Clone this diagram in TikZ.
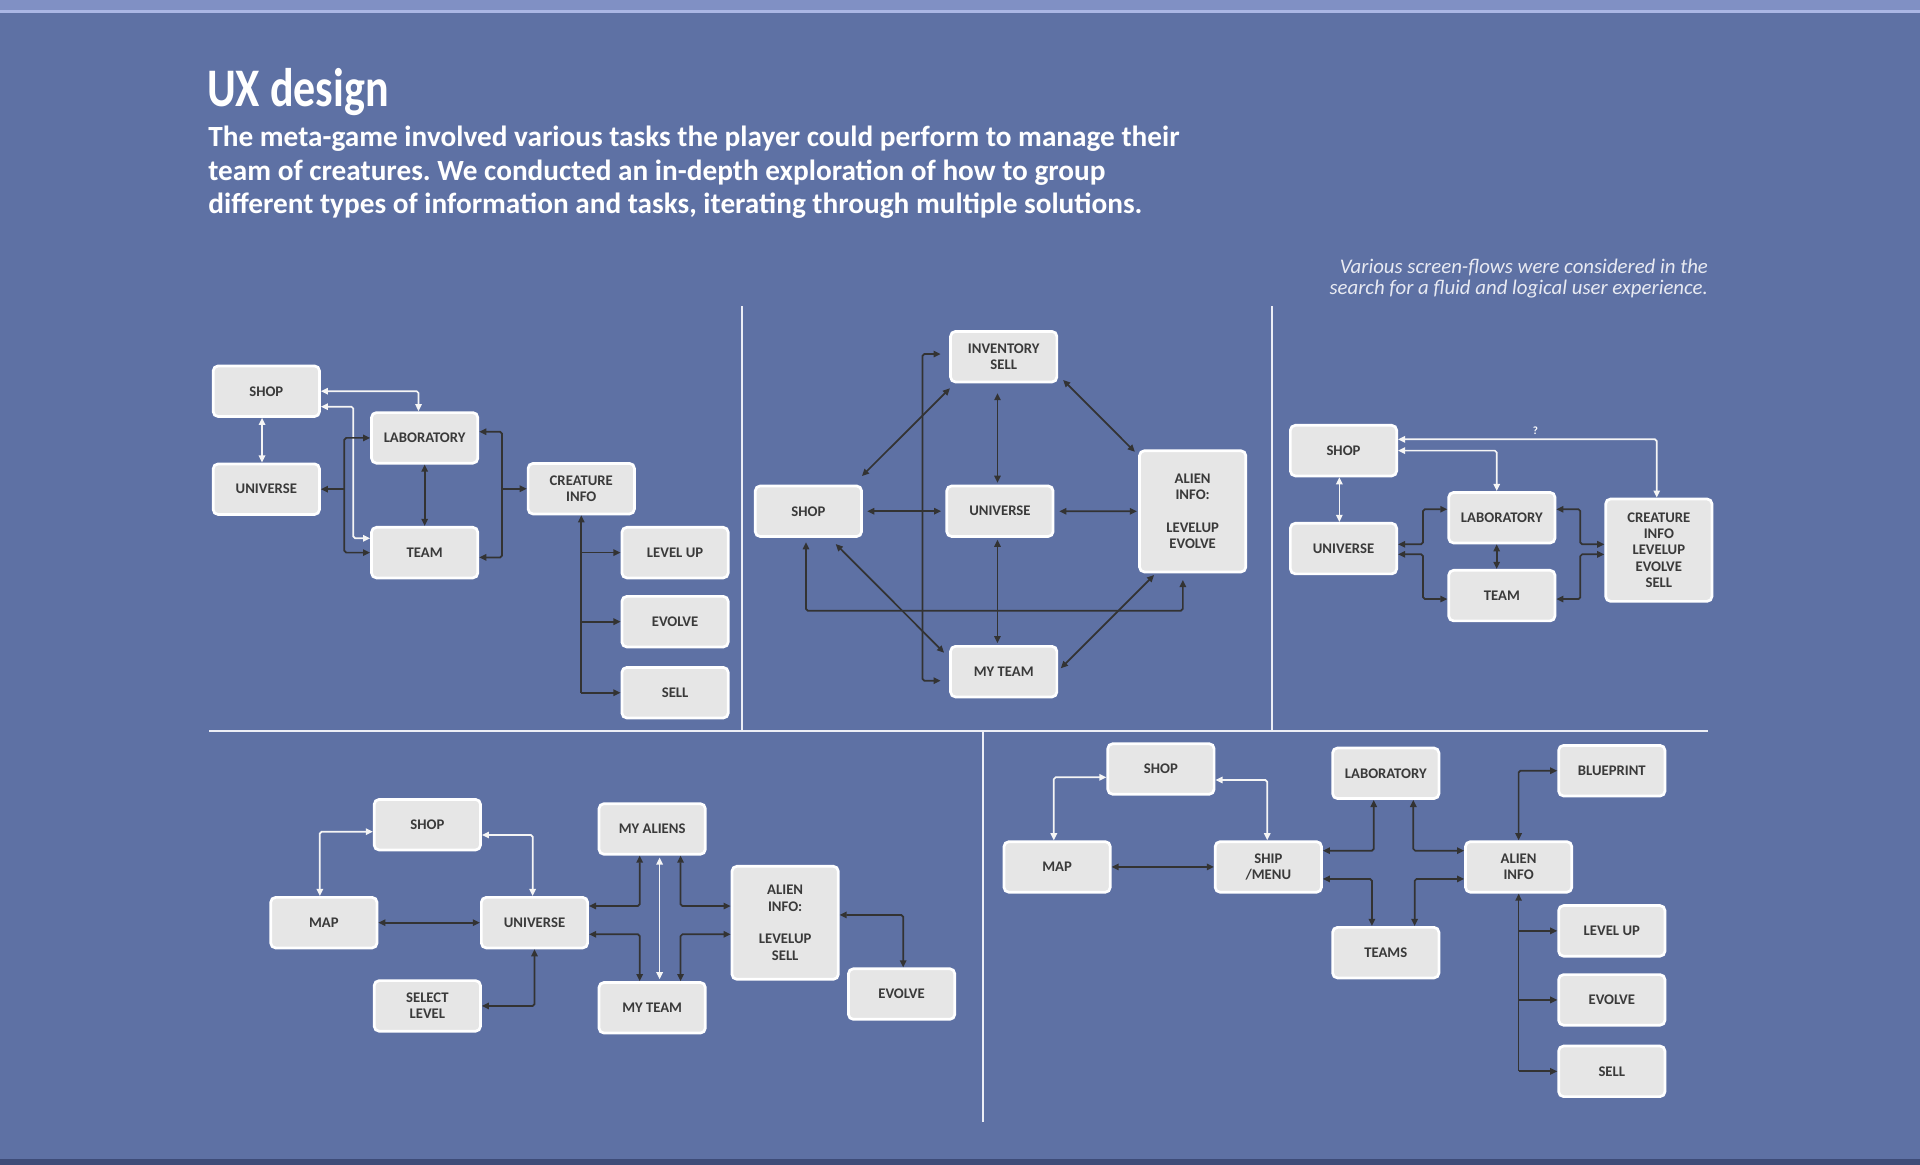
\documentclass[tikz,border=0pt]{standalone}
\usepackage{fontspec}
\setmainfont{Carlito}
\usetikzlibrary{arrows.meta,calc}
\definecolor{bg}{RGB}{94,113,164}
\definecolor{bandtop}{RGB}{128,144,196}
\definecolor{hilite}{RGB}{170,182,228}
\definecolor{bandbot}{RGB}{62,76,120}
\definecolor{boxfill}{RGB}{230,230,230}
\definecolor{boxtext}{RGB}{58,58,58}
\definecolor{ink}{RGB}{51,51,51}
\definecolor{wline}{RGB}{245,245,245}
\definecolor{sepline}{RGB}{236,238,246}
\definecolor{notetext}{RGB}{232,234,242}
\frenchspacing
\tikzset{
  box/.style={draw=white,line width=2.2pt,fill=boxfill,rounded corners=4pt,minimum width=86.8pt,minimum height=41.3pt,inner sep=0pt,align=center,text=boxtext,font=\fontsize{12}{13.4}\selectfont\bfseries},
  tall/.style={box,minimum height=#1},
  arr/.style={{Triangle[length=5.8pt,width=5.2pt]}-{Triangle[length=5.8pt,width=5.2pt]},line width=1.4pt,draw=ink,rounded corners=1.5pt},
  arr1/.style={-{Triangle[length=5.8pt,width=5.2pt]},line width=1.4pt,draw=ink},
  warr/.style={arr,draw=wline},
  sep/.style={draw=sepline,line width=1.6pt},
  body/.style={anchor=base west,inner sep=0pt,text=white,font=\fontsize{23.9}{27}\selectfont\bfseries},
  note/.style={anchor=base east,inner sep=0pt,text=notetext,font=\fontsize{17}{18}\selectfont\itshape},
  qlbl/.style={inner sep=0pt,text=white,font=\fontsize{9}{10}\selectfont\bfseries},
}

\begin{document}
\begin{tikzpicture}[x=1pt,y=-1pt]
 \useasboundingbox (0,0) rectangle (1568,951);
 \fill[bg] (0,0) rectangle (1568,951);
 \fill[bandtop] (0,0) rectangle (1568,8.2); \fill[hilite] (0,8.2) rectangle (1568,10.9);
 \fill[bandbot] (0,946.8) rectangle (1568,951);
 % heading
 \node[anchor=base west,inner sep=0pt,text=white,font=\fontsize{44.4}{50}\selectfont\bfseries] (title) at (169,87) {\scalebox{0.81}[1]{UX design}};
 \foreach \t [count=\i] in {{The meta-game involved various tasks the player could perform to manage their},{team of creatures. We conducted an in-depth exploration of how to group},{different types of information and tasks, iterating through multiple solutions.}}
  \node[body] (intro\i) at (170,{93+27*\i}) {\t};
 \node[note] (note1) at (1395,223.2) {Various screen-flows were considered in the};
 \node[note] (note2) at (1395,240.9) {search for a fluid and logical user experience.};
 % panel dividers
 \draw[sep] (171,597) -- (1395,597);
 \draw[sep] (606,250) -- (606,597); \draw[sep] (1039,250) -- (1039,597);
 \draw[sep] (802.5,597) -- (802.5,916);

 % flow a
 \node[box] (ashop) at (217.5,319.5){SHOP}; \node[box] (auni) at (217.5,399.5){UNIVERSE};
 \node[box] (alab) at (346.8,357.6){LABORATORY}; \node[box] (ateam) at (346.8,451.3){TEAM};
 \node[box] (acre) at (474.7,399.1){CREATURE\\INFO};
 \node[box] (alvl) at (551.3,451.3){LEVEL UP}; \node[box] (aevo) at (551.3,507.7){EVOLVE}; \node[box] (asell) at (551.3,565.7){SELL};
 \draw[warr] ([xshift=-3.5pt]ashop.south) -- ([xshift=-3.5pt]auni.north);
 \draw[warr] (ashop.east) -| ([xshift=-5pt]alab.north);
 \draw[warr] ([yshift=-12.6pt]ashop.east) -- ++(26.5,0) |- ([yshift=11.7pt]ateam.west);
 \coordinate (abus) at (281.2,399.5); \coordinate (abus2) at (410,399.1);
 \draw[arr] (alab.west) -| (abus) |- (ateam.west); \draw[arr1] (abus) -- (auni.east);
 \draw[arr] (alab.south) -- (ateam.north);
 \draw[arr] ([yshift=5pt]alab.east) -| (abus2) |- ([yshift=-3.9pt]ateam.east); \draw[arr1] (abus2) -- (acre.west);
 \draw[arr1] (acre.south |- asell) -- (acre.south);
 \foreach \b in {alvl,aevo,asell}{\draw[arr1] (acre.south |- \b) -- (\b.west);}

 % flow b
 \node[box] (binv) at (819.7,291.3){INVENTORY\\SELL}; \node[box] (bshop) at (660.2,417.5){SHOP};
 \node[box] (buni) at (816.6,417.5){UNIVERSE}; \node[tall=99pt] (balien) at (974,417.6){ALIEN\\INFO:\\[13.4pt]LEVELUP\\EVOLVE};
 \node[box] (bteam) at (819.7,548.5){MY TEAM};
 \draw[arr] ($(binv.south west)+(0.6,4)$) -- ($(bshop.north east)+(-0.8,-7)$);
 \draw[arr] ($(binv.south east)+(4,-2.7)$) -- ($(balien.north west)+(-2.7,2)$);
 \draw[arr,shorten <=8pt,shorten >=1.5pt] ([xshift=-2pt]buni.north |- binv.south) -- ([xshift=-2pt]buni.north);
 \draw[arr,shorten <=3.5pt,shorten >=3.5pt] (bshop) -- (buni);
 \draw[arr,shorten <=4pt,shorten >=1pt] (buni) -- (balien);
 \draw[arr,shorten <=1.5pt,shorten >=1.5pt] ([xshift=-2pt]buni.south) -- ([xshift=-2pt]buni.south |- bteam.north);
 \draw[arr] ($(bshop.south)+(22.3,5)$) -- ($(bteam.north west)+(-4.2,6.3)$);
 \draw[arr] ($(balien.south west)+(13,1.4)$) -- ($(bteam.north east)+(2.1,19)$);
 \coordinate (bloop) at (966,498.7);
 \draw[arr] ([xshift=-2pt,yshift=-3.5pt]bshop.south) |- (bloop) -- ([yshift=-5.4pt]bloop |- balien.south);
 \coordinate (bl1) at (753.4,289.1); \coordinate (bl2) at (753.4,555.9);
 \draw[arr,shorten <=7pt,shorten >=7pt] (binv.west |- bl1) -- (bl1) -- (bl2) -- (bteam.west |- bl2);

 % flow c
 \node[box] (cshop) at (1097.2,368){SHOP}; \node[box] (cuni) at (1097.2,448){UNIVERSE};
 \node[box] (clab) at (1226.5,422.8){LABORATORY}; \node[box] (cteam) at (1226.5,486.4){TEAM};
 \node[tall=83.6pt] (ccre) at (1354.7,449.3){CREATURE\\INFO\\LEVELUP\\EVOLVE\\SELL};
 \draw[warr] ([yshift=9.2pt]cshop.east) -| ([xshift=-1.7pt]ccre.north);
 \node[qlbl] (cq) at (1254,352){?};
 \draw[warr] (cshop.east) -| ([xshift=-4.2pt]clab.north);
 \draw[warr] ([xshift=-3.4pt]cshop.south) -- ([xshift=-3.4pt]cuni.north);
 \draw[arr] ([yshift=3.5pt]cuni.east) -- ++(20.4,0) |- ([yshift=6.9pt]clab.west);
 \draw[arr] ([yshift=-4.7pt]cuni.east) -- ++(20.4,0) |- ([yshift=-2.8pt]cteam.west);
 \draw[arr] ([xshift=-4.2pt]clab.south) -- ([xshift=-4.2pt]cteam.north);
 \draw[arr] ([yshift=6.9pt]clab.east) -- ++(19.6,0) |- ([yshift=4.8pt]ccre.west);
 \draw[arr] ([yshift=-2.8pt]cteam.east) -- ++(19.6,0) |- ([yshift=-3.4pt]ccre.west);

 % flow d
 \node[box] (dshop) at (349,673.5){SHOP}; \node[box] (dmap) at (264.5,753.5){MAP};
 \node[box] (duni) at (436.5,753.5){UNIVERSE}; \node[box] (dsel) at (349,821.5){SELECT\\LEVEL};
 \node[box] (dali) at (532.6,677){MY ALIENS}; \node[box] (dteam) at (532.6,823){MY TEAM};
 \node[tall=92.3pt] (dinfo) at (641.2,753.6){ALIEN\\INFO:\\[13.4pt]LEVELUP\\SELL};
 \node[box] (devo) at (736.3,811.8){EVOLVE};
 \draw[warr] ([xshift=-3.3pt]dmap.north) |- ([yshift=-5.7pt]dshop.west);
 \draw[warr] ([yshift=-8.4pt]dshop.east) -| ([xshift=-1.5pt]duni.north);
 \draw[arr] (dmap) -- (duni);
 \draw[arr] (duni.south) |- (dsel.east);
 \draw[arr] ([yshift=13.6pt]duni.east) -| ([xshift=-10.2pt]dali.south);
 \draw[arr] ([yshift=-9.5pt]duni.east) -| ([xshift=-10.2pt]dteam.north);
 \draw[warr,shorten <=1.5pt,shorten >=1.5pt] ([xshift=6.1pt]dali.south) -- ([xshift=6.1pt]dteam.north);
 \draw[arr] ([xshift=23.2pt]dali.south) |- ([yshift=13.7pt]dinfo.west);
 \draw[arr] ([xshift=23.2pt]dteam.north) |- ([yshift=-9.4pt]dinfo.west);
 \draw[arr] ([yshift=6.4pt]dinfo.east) -| ([xshift=1.3pt]devo.north);

 % flow e
 \node[box] (eshop) at (948.1,628){SHOP}; \node[box] (emap) at (863.3,708){MAP};
 \node[box] (eship) at (1035.8,708){SHIP\\/MENU}; \node[box] (elab) at (1131.7,631.5){LABORATORY};
 \node[box] (eteams) at (1131.7,778){TEAMS}; \node[box] (einfo) at (1240.2,708){ALIEN\\INFO};
 \node[box] (eblue) at (1316.3,629.4){BLUEPRINT}; \node[box] (elvl) at (1316.3,760.2){LEVEL UP};
 \node[box] (eevo) at (1316.3,816.6){EVOLVE}; \node[box] (esell) at (1316.3,874.9){SELL};
 \draw[warr] ([xshift=-2.7pt]emap.north) |- ([yshift=-6.8pt]eshop.west);
 \draw[warr] ([yshift=-9pt]eshop.east) -| ([xshift=-0.9pt]eship.north);
 \draw[arr] (emap) -- (eship);
 \draw[arr] ([yshift=13.3pt]eship.east) -| ([xshift=-9.8pt]elab.south);
 \draw[arr] ([yshift=-9.8pt]eship.east) -| ([xshift=-11.3pt]eteams.north);
 \draw[arr] ([xshift=22.5pt]elab.south) |- ([yshift=13.3pt]einfo.west);
 \draw[arr] ([xshift=23.6pt]eteams.north) |- ([yshift=-9.8pt]einfo.west);
 \draw[arr] (einfo.north) |- (eblue.west);
 \draw[arr1] (einfo.south |- esell) -- (einfo.south);
 \foreach \b in {elvl,eevo,esell}{\draw[arr1] (einfo.south |- \b) -- (\b.west);}
\end{tikzpicture}
\end{document}
